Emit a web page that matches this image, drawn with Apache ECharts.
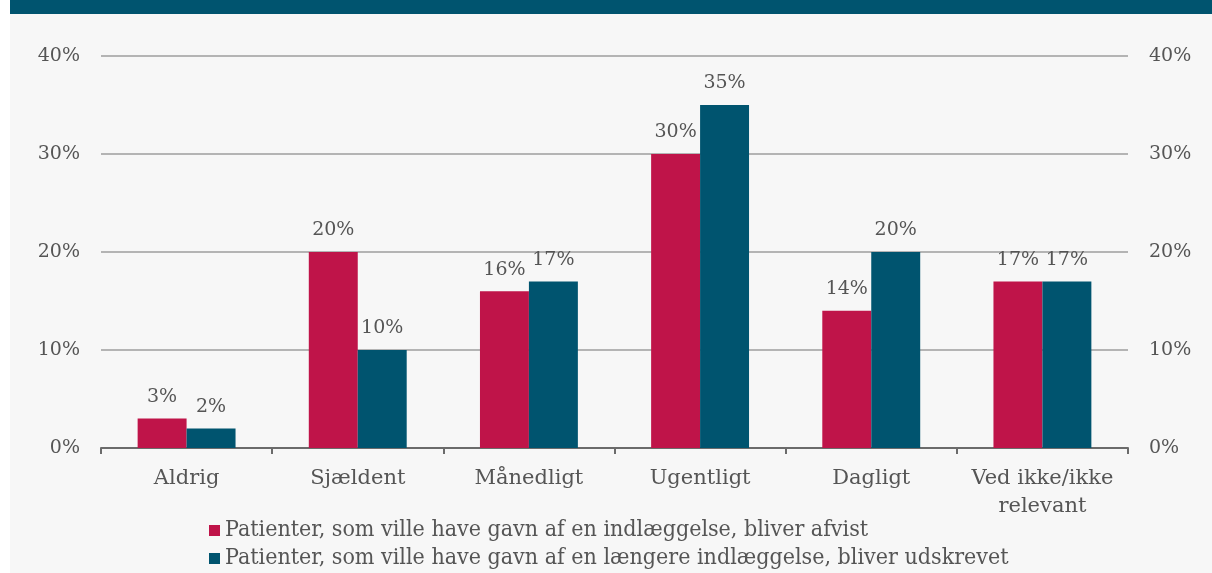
<!DOCTYPE html>
<html>
<head>
<meta charset="utf-8">
<script src="https://cdn.jsdelivr.net/npm/echarts@6/dist/echarts.min.js"></script>
<style>
  html, body { margin: 0; padding: 0; background: #ffffff; }
  #chart { width: 1212px; height: 573px; }
</style>
</head>
<body>
<div id="chart"></div>
<script>
// kategorier og værdier (procent)
const categories = ['Aldrig', 'Sjældent', 'Månedligt', 'Ugentligt', 'Dagligt', 'Ved ikke/ikke\nrelevant']
const afvistValues = [3, 20, 16, 30, 14, 17]
const udskrevetValues = [2, 10, 17, 35, 20, 17]
const seriesNames = [
  'Patienter, som ville have gavn af en indlæggelse, bliver afvist',
  'Patienter, som ville have gavn af en længere indlæggelse, bliver udskrevet'
]
const yTicks = [0, 10, 20, 30, 40]

const red = '#bf1449'
const teal = '#00546f'
const textColor = '#555555'
const serif = 'DejaVu Serif'

const chart = echarts.init(document.getElementById('chart'))

const labelStyle = {
  show: true,
  position: 'top',
  distance: 12,
  color: textColor,
  fontFamily: serif,
  fontSize: 19,
  formatter: p => p.value + '%'
}

function yAxis(pos, split) {
  return {
    type: 'value',
    position: pos,
    min: yTicks[0],
    max: yTicks[yTicks.length - 1],
    interval: 10,
    axisLine: { show: false },
    axisTick: { show: false },
    axisLabel: {
      color: textColor,
      fontFamily: serif,
      fontSize: 19,
      margin: 21,
      formatter: v => v + '%'
    },
    splitLine: { show: split, lineStyle: { color: '#b4b4b4', width: 2 } }
  }
}

const option = {
  animation: false,
  graphic: [
    { type: 'rect', z: -10, shape: { x: 10, y: 0, width: 1202, height: 573 }, style: { fill: '#f7f7f7' } },
    { type: 'rect', z: -9, shape: { x: 10, y: 0, width: 1202, height: 14 }, style: { fill: teal } }
  ],
  grid: { left: 101, right: 84, top: 56, bottom: 125, containLabel: false },
  legend: {
    orient: 'vertical',
    left: 204,
    top: 514,
    height: 120,
    itemWidth: 11,
    itemHeight: 11,
    itemGap: 5,
    icon: 'rect',
    textStyle: { color: textColor, fontFamily: 'DejaVu Serif Condensed', fontSize: 23, padding: [0, 0, 0, 0] },
    data: seriesNames
  },
  xAxis: {
    type: 'category',
    data: categories,
    axisLine: { lineStyle: { color: '#6b6b6b', width: 2 } },
    axisTick: { show: true, length: 6, lineStyle: { color: '#6b6b6b', width: 2 } },
    axisLabel: { color: textColor, fontFamily: serif, fontSize: 21, margin: 17, lineHeight: 28, interval: 0 }
  },
  yAxis: [yAxis('left', true), yAxis('right', false)],
  series: [
    {
      name: seriesNames[0],
      type: 'bar',
      data: afvistValues,
      barGap: '0%',
      barCategoryGap: '42.8%',
      itemStyle: { color: red },
      label: labelStyle
    },
    {
      name: seriesNames[1],
      type: 'bar',
      data: udskrevetValues,
      itemStyle: { color: teal },
      label: labelStyle
    }
  ]
}

chart.setOption(option)
</script>
</body>
</html>
